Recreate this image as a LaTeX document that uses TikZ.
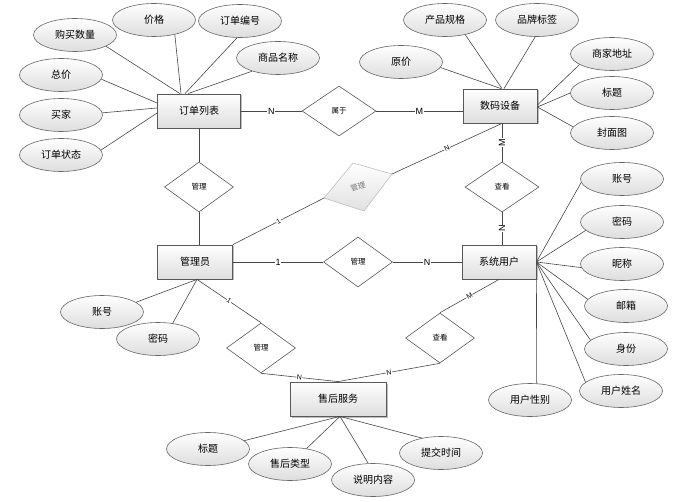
\documentclass[tikz,border=0pt]{standalone}
\usepackage{fontspec}
\setmainfont{Noto Sans CJK SC}
\newfontfamily\latf{Liberation Sans}
\usetikzlibrary{shapes.geometric,shadows,calc}
\begin{document}
\begin{tikzpicture}[x=1pt,y=-1pt,
  ent/.style={rectangle, draw=black!65, line width=0.8pt, top color=white, bottom color=black!13,
    minimum height=34pt, inner sep=0pt, font=\fontsize{10}{12}\selectfont,
    drop shadow={shadow xshift=1.5pt, shadow yshift=-1.5pt, opacity=0.25, fill=black}},
  attr/.style={ellipse, draw=black!60, line width=0.6pt, top color=white, bottom color=black!13,
    minimum width=83pt, minimum height=33pt, inner sep=0pt, font=\fontsize{10}{12}\selectfont},
  rel/.style={diamond, draw=black!65, line width=0.6pt, fill=white,
    minimum width=69pt, minimum height=50pt, inner sep=0pt, font=\fontsize{7.5}{9}\selectfont},
  greyshape/.style={draw=black!25, line width=0.6pt, top color=white, bottom color=black!12},
  greytext/.style={inner sep=0pt, text=black!55, font=\fontsize{7.5}{9}\selectfont},
  lnk/.style={draw=black!72, line width=0.6pt},
  lbl/.style={fill=white, inner sep=0.6pt, font=\latf\fontsize{9}{10}\selectfont},
  slbl/.style={fill=white, inner sep=0.4pt, font=\latf\fontsize{7}{8}\selectfont}]
\useasboundingbox (0,0) rectangle (679,502);

% entities
\node[ent, minimum width=83pt] (ddlb) at (199,111) {订单列表};
\node[ent, minimum width=74pt] (smsb) at (500,106) {数码设备};
\node[ent, minimum width=75pt] (gly) at (195,262) {管理员};
\node[ent, minimum width=74pt] (xtyh) at (499,262) {系统用户};
\node[ent, minimum width=96pt] (shfw) at (338,399) {售后服务};

% relationships
\node[rel, minimum width=74pt] (sy) at (339,111) {属于};
\node[rel] (gl1) at (199,187) {管理};
\coordinate (g2l) at (324,198);
\coordinate (g2t) at (353,163);
\coordinate (g2r) at (392,174);
\coordinate (g2b) at (364,211);
\path[greyshape] (g2l) -- (g2t) -- (g2r) -- (g2b) -- cycle;
\node[greytext, rotate=17] (gl2) at (358,187) {管理};
\node[rel, minimum width=74pt] (ck1) at (502,187) {查看};
\node[rel] (gl3) at (358,262) {管理};
\node[rel] (gl4) at (261,348) {管理};
\node[rel] (ck2) at (440,338) {查看};

% attributes of 订单列表
\node[attr] (gmsl) at (75,35) {购买数量};
\node[attr] (jg) at (154,20) {价格};
\node[attr] (ddbh) at (240,21) {订单编号};
\node[attr] (spmc) at (278,58) {商品名称};
\node[attr] (zj) at (61,75) {总价};
\node[attr] (mj) at (61,115) {买家};
\node[attr] (ddzt) at (61,155) {订单状态};

% attributes of 数码设备
\node[attr] (yj) at (401,62) {原价};
\node[attr] (cpgg) at (445,20) {产品规格};
\node[attr] (ppbq) at (537,20) {品牌标签};
\node[attr] (sjdz) at (612,54) {商家地址};
\node[attr] (bt1) at (612,93) {标题};
\node[attr] (fmt) at (612,133) {封面图};

% attributes of 系统用户
\node[attr] (zh2) at (622,179) {账号};
\node[attr] (mm2) at (622,222) {密码};
\node[attr] (nc) at (622,264) {昵称};
\node[attr] (yx) at (626,306) {邮箱};
\node[attr] (sf) at (626,349) {身份};
\node[attr] (yhxm) at (621,391) {用户姓名};
\node[attr] (yhxb) at (530,400) {用户性别};

% attributes of 管理员
\node[attr] (zh1) at (102,312) {账号};
\node[attr] (mm1) at (158,339) {密码};

% attributes of 售后服务
\node[attr] (bt2) at (208,449) {标题};
\node[attr] (shlx) at (290,464) {售后类型};
\node[attr] (smnr) at (373,480) {说明内容};
\node[attr] (tjsj) at (441,453) {提交时间};

% helper coordinates on entity borders
\coordinate (sbB) at ($(smsb.south)+(2,0)$);
\coordinate (glyB) at ($(gly.south)+(2,0)$);
\coordinate (shfwB) at ($(shfw.south)+(2,0)$);

% relationship connectors
\draw[lnk] (ddlb.east) -- node[lbl]{N} (sy.west);
\draw[lnk] (sy.east) -- node[lbl]{M} (smsb.west |- sy.east);
\draw[lnk] (ddlb.south) -- (gl1.north);
\draw[lnk] (gl1.south) -- (gl1.south |- gly.north);
\draw[lnk] (gly.north east) -- node[slbl, sloped]{1} (g2l);
\draw[lnk] (g2r) -- node[slbl, sloped]{N} (sbB);
\draw[lnk] (sbB) -- node[lbl, rotate=90]{M} (ck1.north);
\draw[lnk] (ck1.south) -- node[lbl, rotate=90]{N} (ck1.south |- xtyh.north);
\draw[lnk] (gly.east) -- node[lbl]{1} (gl3.west);
\draw[lnk] (gl3.east) -- node[lbl]{N} (xtyh.west);
\draw[lnk] (glyB) -- node[slbl, sloped]{1} (gl4.north);
\draw[lnk] (gl4.south) -- node[slbl, sloped]{N} (shfw.north);
\draw[lnk] (xtyh.south) -- node[slbl, sloped]{M} (ck2.north);
\draw[lnk] (ck2.south) -- node[slbl, sloped]{N} (shfw.north);

% attribute connectors: 订单列表
\draw[lnk] (gmsl.-20) -- ($(ddlb.north)+(-19,0)$);
\draw[lnk] (jg.-35) -- ($(ddlb.north)+(-18,0)$);
\draw[lnk] (ddbh.-100) -- ($(ddlb.north)+(-14,0)$);
\draw[lnk] (spmc.-153) -- ($(ddlb.north)+(-11,0)$);
\draw[lnk] (zj.-6) -- ($(ddlb.west)+(0,-8)$);
\draw[lnk] (mj.3) -- ($(ddlb.west)+(0,-3)$);
\draw[lnk] (ddzt.7) -- ($(ddlb.west)+(0,2)$);

% 数码设备
\draw[lnk] (yj.-8) -- ($(smsb.north)+(1,0)$);
\draw[lnk] (cpgg.-36) -- ($(smsb.north)+(2,0)$);
\draw[lnk] (ppbq.-96) -- ($(smsb.north)+(4,0)$);
\draw[lnk] (sjdz.-162) -- ($(smsb.east)+(0,-1)$);
\draw[lnk] (bt1.180) -- ($(smsb.east)+(0,1)$);
\draw[lnk] (fmt.171) -- ($(smsb.east)+(0,1)$);

% 系统用户
\draw[lnk] (zh2.185) -- (xtyh.east);
\draw[lnk] (mm2.193) -- (xtyh.east);
\draw[lnk] (nc.185) -- (xtyh.east);
\draw[lnk] (yx.170) -- (xtyh.east);
\draw[lnk] (sf.166) -- (xtyh.east);
\draw[lnk] (yhxm.166) -- (xtyh.east);
\draw[lnk] (xtyh.south east) -- (yhxb.68);

% 管理员
\draw[lnk] (zh1.16) -- (glyB);
\draw[lnk] (mm1.47) -- (glyB);

% 售后服务
\draw[lnk] (bt2.13) -- (shfwB);
\draw[lnk] (shlx.43) -- (shfwB);
\draw[lnk] (smnr.106) -- (shfwB);
\draw[lnk] (tjsj.142) -- (shfwB);
\end{tikzpicture}
\end{document}
